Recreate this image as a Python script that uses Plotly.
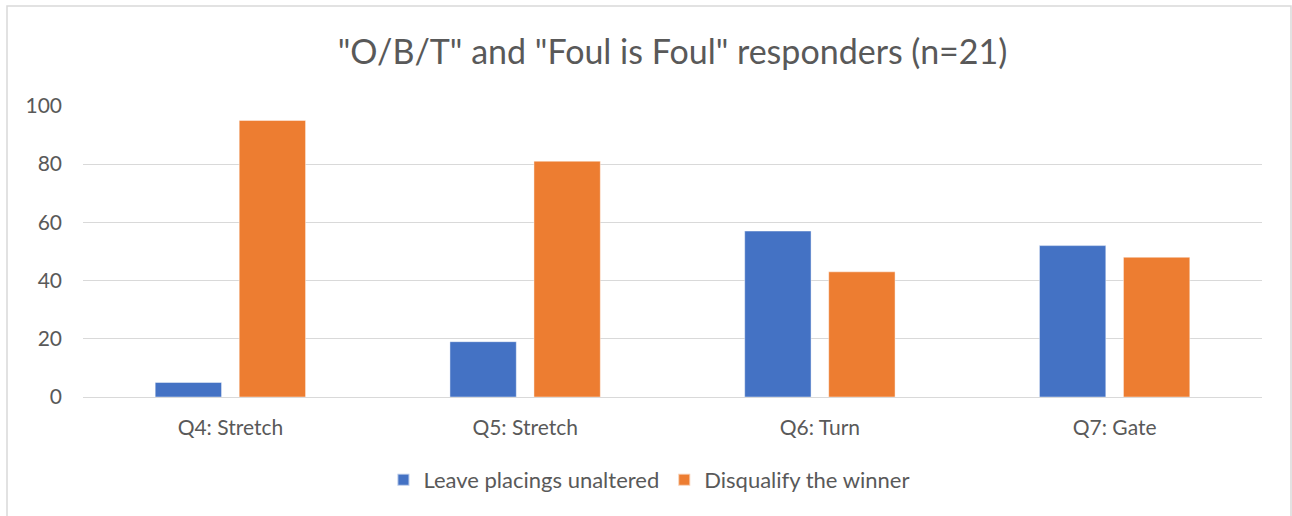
import plotly.graph_objects as go

categories = ["Q4: Stretch", "Q5: Stretch", "Q6: Turn", "Q7: Gate"]
leave = [5, 19, 57, 52]
disqualify = [95, 81, 43, 48]
series_names = ["Leave placings unaltered", "Disqualify the winner"]
y_ticks = [0, 20, 40, 60, 80, 100]
title_text = '"O/B/T" and "Foul is Foul" responders (n=21)'

W, H = 1292, 516
L, R, T, B = 83, 30, 105, 119
pw, ph = W - L - R, H - T - B

FONT = "Lato, Carlito, Calibri, sans-serif"
TXT = "#595959"

fig = go.Figure()
fig.add_trace(go.Bar(x=categories, y=leave, name=series_names[0],
                     marker=dict(color="#4472C4", line=dict(color="rgba(255,255,255,0.6)", width=0.75))))
fig.add_trace(go.Bar(x=categories, y=disqualify, name=series_names[1],
                     marker=dict(color="#ED7D31", line=dict(color="rgba(255,255,255,0.6)", width=0.75))))

def px_x(p):
    return (p - L) / pw

def px_y(p):
    return (H - B - p) / ph

fig.add_shape(type="rect", xref="paper", yref="paper",
              x0=px_x(7), x1=px_x(1291), y0=px_y(530), y1=px_y(6),
              line=dict(color="#d9d9d9", width=1.5), fillcolor="rgba(0,0,0,0)", layer="below")

fig.update_layout(
    width=W, height=H,
    margin=dict(l=L, r=R, t=T, b=B),
    paper_bgcolor="white", plot_bgcolor="white",
    barmode="group", bargap=0.43, bargroupgap=0.21,
    title=dict(text=title_text, x=0.5, xanchor="center", xref="paper",
               y=1 - 52 / H, yanchor="middle",
               font=dict(family=FONT, size=34, color=TXT)),
    font=dict(family=FONT, color=TXT, size=21),
    showlegend=True,
    legend=dict(orientation="h", x=0.48, xanchor="center", y=px_y(480), yanchor="middle",
                font=dict(family=FONT, size=22, color=TXT), traceorder="normal",
                itemwidth=30, itemsizing="constant"),
    xaxis=dict(showgrid=False, showline=True, linecolor="#d9d9d9", linewidth=1,
               ticks="", tickfont=dict(family=FONT, size=21, color=TXT), ticklabelstandoff=12),
    yaxis=dict(range=[0, 100.3], tickvals=y_ticks, showgrid=True, gridcolor="#d9d9d9", gridwidth=1,
               zeroline=False, showline=False, ticks="",
               tickfont=dict(family=FONT, size=21, color=TXT), ticklabelstandoff=20),
)

fig.write_html("out.html", config={"displayModeBar": False},
               post_script="document.body.style.margin='0';document.body.style.overflow='hidden';")
